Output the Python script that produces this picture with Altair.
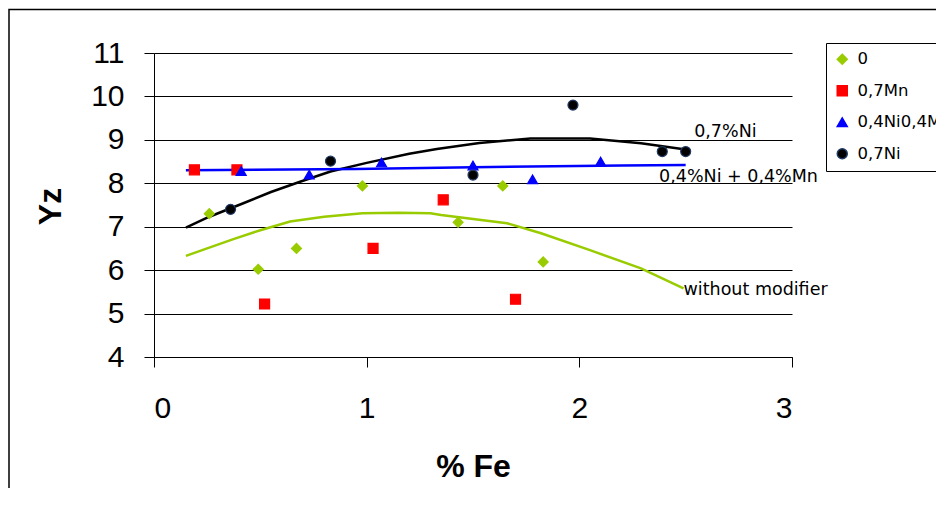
import altair as alt
import pandas as pd

# ---- data ----
series_names = ["0", "0,7Mn", "0,4Ni0,4Mn", "0,7Ni"]
series_colors = ["#99CC00", "#FF0000", "#0000FF", "#000000"]
series_strokes = ["#99CC00", "#FF0000", "#0000FF", "#1F3A64"]
series_shapes = ["diamond", "square", "triangle-up", "circle"]

s0_x = [0.26, 0.49, 0.67, 0.98, 1.43, 1.64, 1.83]
s0_y = [7.30, 6.02, 6.50, 7.94, 7.10, 7.94, 6.19]

mn_x = [0.19, 0.39, 0.52, 1.03, 1.36, 1.70]
mn_y = [8.31, 8.31, 5.22, 6.50, 7.62, 5.33]

nimn_x = [0.41, 0.73, 1.07, 1.50, 1.78, 2.10]
nimn_y = [8.28, 8.20, 8.48, 8.41, 8.09, 8.50]

ni_x = [0.36, 0.83, 1.50, 1.97, 2.39, 2.50]
ni_y = [7.40, 8.51, 8.19, 9.80, 8.73, 8.73]

# trend curves
fit_ni_x = [0.15, 0.26, 0.42, 0.55, 0.69, 0.83, 1.00, 1.20, 1.33, 1.53, 1.77, 2.05, 2.29, 2.50]
fit_ni_y = [6.98, 7.23, 7.54, 7.80, 8.04, 8.27, 8.47, 8.68, 8.79, 8.93, 9.03, 9.03, 8.92, 8.78]

fit_nimn_x = [0.15, 0.95, 1.50, 2.20, 2.50]
fit_nimn_y = [8.30, 8.33, 8.37, 8.41, 8.42]

fit_0_x = [0.15, 0.37, 0.50, 0.64, 0.80, 0.98, 1.15, 1.30, 1.35, 1.66, 1.82, 2.05, 2.29, 2.49]
fit_0_y = [6.33, 6.71, 6.92, 7.12, 7.23, 7.31, 7.32, 7.31, 7.27, 7.08, 6.85, 6.46, 6.04, 5.58]

label_texts = ["0,7%Ni", "0,4%Ni + 0,4%Mn", "without modifier"]
label_x = [2.54, 2.375, 2.49]
label_y = [9.18, 8.14, 5.54]

x_ticks = [0, 1, 2, 3]
y_ticks = [4, 5, 6, 7, 8, 9, 10, 11]

# ---- tables ----
rows = []
for name, xs, ys in zip(series_names, [s0_x, mn_x, nimn_x, ni_x], [s0_y, mn_y, nimn_y, ni_y]):
    for a, b in zip(xs, ys):
        rows.append({"x": a, "y": b, "series": name})
points_df = pd.DataFrame(rows)

line_rows = []
for name, xs, ys in zip(["ni", "nimn", "0"], [fit_ni_x, fit_nimn_x, fit_0_x], [fit_ni_y, fit_nimn_y, fit_0_y]):
    for i, (a, b) in enumerate(zip(xs, ys)):
        line_rows.append({"x": a, "y": b, "fit": name, "order": i})
lines_df = pd.DataFrame(line_rows)

labels_df = pd.DataFrame({"x": label_x, "y": label_y, "text": label_texts})

X = alt.X("x:Q", scale=alt.Scale(domain=[0, 3], nice=False, zero=False),
          axis=alt.Axis(values=x_ticks, title="% Fe", grid=False, tickSize=10,
                        labelPadding=26, labelFontSize=30, labelFont="Liberation Sans",
                        titleFont="Liberation Sans", titleFontSize=32, titleFontWeight="bold",
                        titleX=319, titleY=109, titleBaseline="middle",
                        domainColor="black", tickColor="black", labelColor="black",
                        titleColor="black", format="d"))
Y = alt.Y("y:Q", scale=alt.Scale(domain=[4, 11], nice=False, zero=False),
          axis=alt.Axis(values=y_ticks, title="Yz", grid=True, gridColor="black",
                        gridOpacity=1, gridWidth=1, tickSize=10, labelPadding=20,
                        labelFontSize=30, labelFont="Liberation Sans",
                        titleFont="Liberation Sans", titleFontSize=32, titleFontWeight="bold",
                        titleAngle=270, titleX=-104, titleY=153, titleBaseline="middle",
                        titleAlign="center",
                        domainColor="black", tickColor="black", labelColor="black",
                        titleColor="black", format="d"))

frame = alt.Chart(pd.DataFrame({"k": [0]})).mark_rect(
    fillOpacity=0, stroke="black", strokeWidth=1.5
).encode(x=alt.value(-145), x2=alt.value(820), y=alt.value(-43.5), y2=alt.value(470))

lines = alt.Chart(lines_df).mark_line(strokeWidth=2.5).encode(
    x=X, y=Y, detail="fit:N", order="order:Q",
    color=alt.Color("fit:N", scale=alt.Scale(domain=["ni", "nimn", "0"],
                                             range=["#000000", "#0000FF", "#99CC00"]),
                    legend=None)
)

legend_cfg = dict(title=None, orient="none", legendX=672, legendY=-10,
                  padding=8, strokeColor="black", fillColor="white",
                  labelFont="DejaVu Sans", labelFontSize=16.5,
                  labelColor="black", symbolSize=100, rowPadding=14.5,
                  labelOffset=7, labelLimit=300, cornerRadius=0)

points = alt.Chart(points_df).mark_point(filled=True, size=100, opacity=1, strokeWidth=1.2).encode(
    x=X, y=Y,
    fill=alt.Fill("series:N", scale=alt.Scale(domain=series_names, range=series_colors),
                  legend=alt.Legend(**legend_cfg)),
    shape=alt.Shape("series:N", scale=alt.Scale(domain=series_names, range=series_shapes),
                    legend=alt.Legend(**legend_cfg)),
    stroke=alt.Stroke("series:N", scale=alt.Scale(domain=series_names, range=series_strokes),
                      legend=None),
)

texts = alt.Chart(labels_df).mark_text(
    align="left", baseline="middle", font="DejaVu Sans", fontSize=17.5, color="black"
).encode(x=X, y=Y, text="text:N")

chart = alt.layer(frame, lines, points, texts).resolve_scale(color="independent").properties(
    width=638, height=304,
    padding={"left": 146, "top": 45, "right": 144, "bottom": 131},
    autosize=alt.AutoSizeParams(type="none"),
    background="white",
).configure_view(stroke=None)

chart.save("out.html", embed_options={"renderer": "svg", "actions": False})
